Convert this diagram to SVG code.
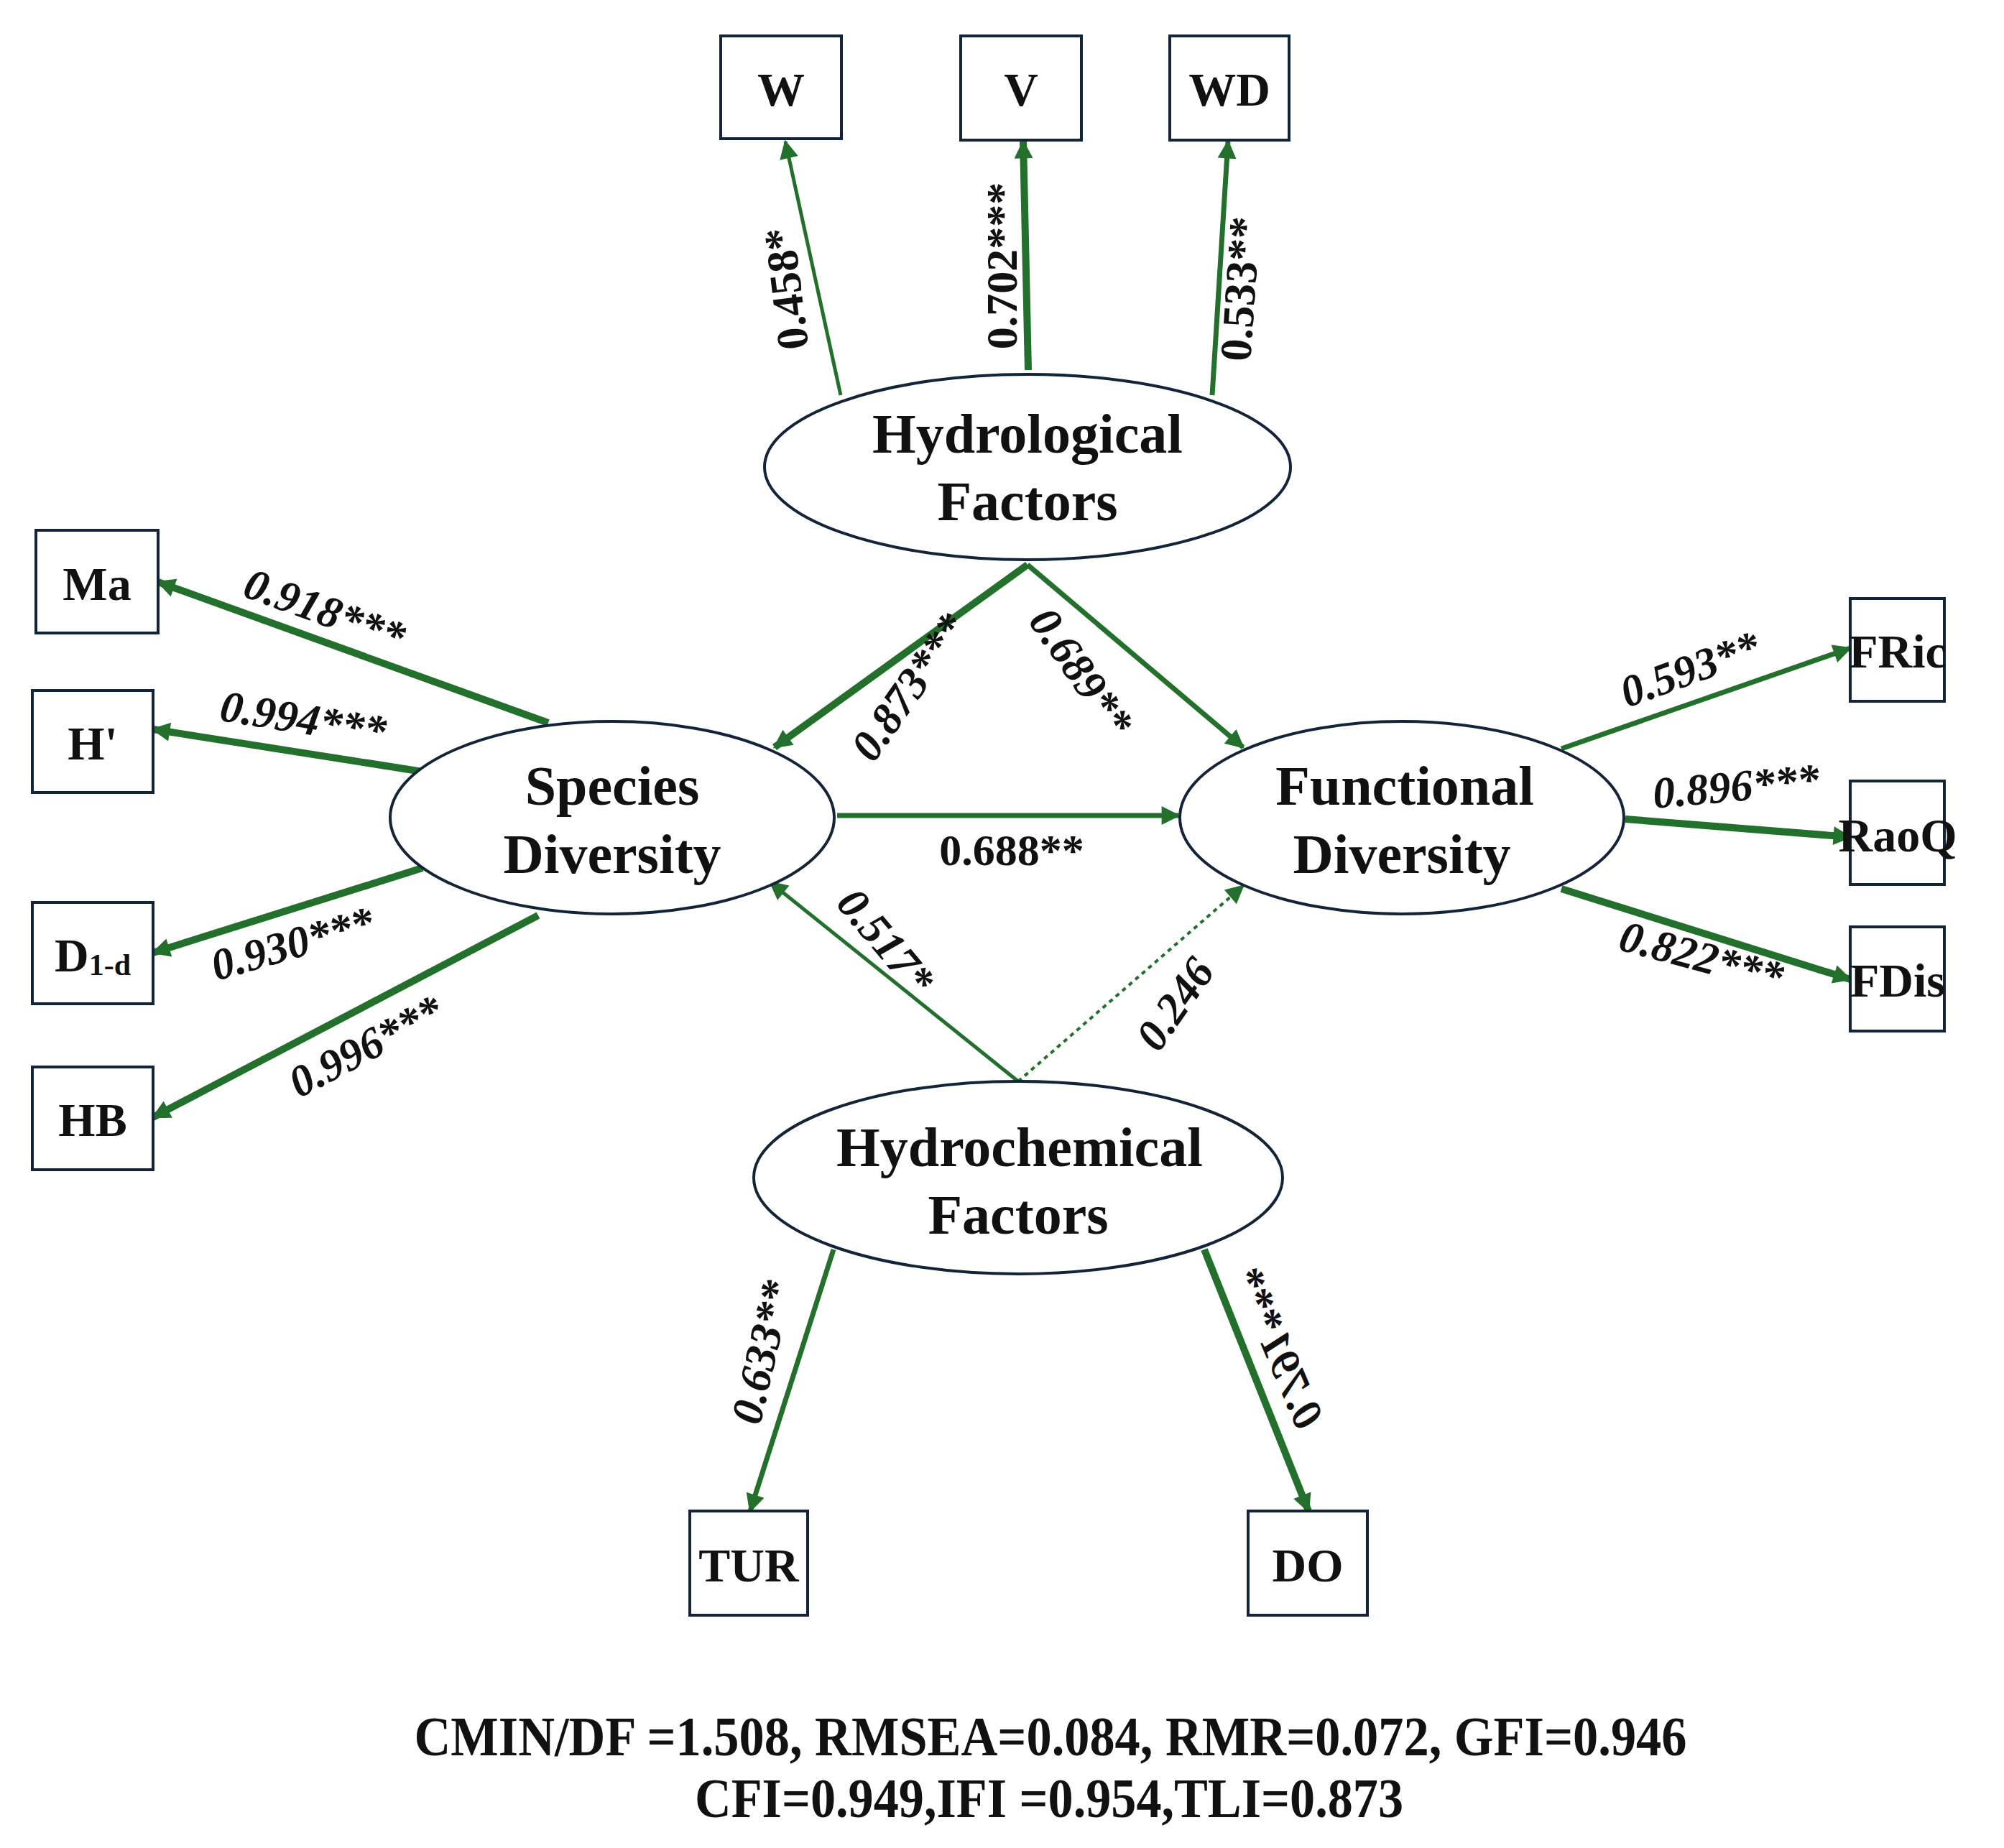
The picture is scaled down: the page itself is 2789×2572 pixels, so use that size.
<svg xmlns="http://www.w3.org/2000/svg" width="2789" height="2572" viewBox="0 0 2789 2572">
<style>
text{font-family:"Liberation Serif","Times New Roman",serif;font-weight:bold;fill:#111;text-anchor:middle;dominant-baseline:central}
.box{fill:#fff;stroke:#13243a;stroke-width:4}
.ell{fill:#fff;stroke:#13243a;stroke-width:4}
.bl{font-size:66px}
.nl{font-size:78px}
.lb{font-size:62px}
.it{font-style:italic}
.c{stroke:#22702c;fill:none}
.t1{stroke-width:5}.t2{stroke-width:7}.t3{stroke-width:10}
</style>
<defs>
<marker id="ah" viewBox="0 0 10 10" refX="9" refY="5" markerWidth="36" markerHeight="26" markerUnits="userSpaceOnUse" orient="auto"><path d="M0,0 L10,5 L0,10 z" fill="#22702c"/></marker>
</defs>
<rect width="2789" height="2572" fill="#fff"/>
<g id="connectors">
<line class="c t1" x1="1170" y1="550" x2="1093" y2="197" marker-end="url(#ah)"/>
<line class="c t3" x1="1431" y1="515" x2="1424" y2="197" marker-end="url(#ah)"/>
<line class="c t2" x1="1687" y1="550" x2="1709" y2="197" marker-end="url(#ah)"/>
<line class="c t3" x1="763" y1="1006" x2="220" y2="810" marker-end="url(#ah)"/>
<line class="c t3" x1="588" y1="1074" x2="213" y2="1015" marker-end="url(#ah)"/>
<line class="c t3" x1="588" y1="1208" x2="213" y2="1326" marker-end="url(#ah)"/>
<line class="c t3" x1="749" y1="1274" x2="213" y2="1555" marker-end="url(#ah)"/>
<line class="c t3" x1="1430" y1="786" x2="1078" y2="1040" marker-end="url(#ah)"/>
<line class="c t2" x1="1430" y1="786" x2="1730" y2="1040" marker-end="url(#ah)"/>
<line class="c t2" x1="1165" y1="1135" x2="1640" y2="1135" marker-end="url(#ah)"/>
<line class="c t1" x1="1417" y1="1505" x2="1072" y2="1228" marker-end="url(#ah)"/>
<line class="c" stroke-width="4" stroke-dasharray="6,6" x1="1417" y1="1505" x2="1730" y2="1233" marker-end="url(#ah)"/>
<line class="c t2" x1="2173" y1="1042" x2="2575" y2="902" marker-end="url(#ah)"/>
<line class="c t3" x1="2262" y1="1140" x2="2575" y2="1165" marker-end="url(#ah)"/>
<line class="c t3" x1="2173" y1="1237" x2="2575" y2="1363" marker-end="url(#ah)"/>
<line class="c t2" x1="1160" y1="1739" x2="1044" y2="2103" marker-end="url(#ah)"/>
<line class="c t3" x1="1676" y1="1739" x2="1821" y2="2103" marker-end="url(#ah)"/>
</g>
<g id="labels">
<text class="lb" transform="translate(1094,402) rotate(-97)">0.458*</text>
<text class="lb" transform="translate(1394,370) rotate(-90)">0.702***</text>
<text class="lb" transform="translate(1726,402) rotate(-86)">0.533**</text>
<text class="lb it" transform="translate(452,849) rotate(20)">0.918***</text>
<text class="lb it" transform="translate(422,1000) rotate(9)">0.994***</text>
<text class="lb it" transform="translate(407,1313) rotate(-16)">0.930***</text>
<text class="lb it" transform="translate(509,1456) rotate(-28)">0.996***</text>
<text class="lb it" transform="translate(1265,956) rotate(-55)">0.873***</text>
<text class="lb it" transform="translate(1505,935) rotate(55)">0.689**</text>
<text class="lb" x="1408" y="1183">0.688**</text>
<text class="lb it" transform="translate(1233,1310) rotate(50)">0.517*</text>
<text class="lb it" transform="translate(1635,1397) rotate(-55)">0.246</text>
<text class="lb it" transform="translate(2352,931) rotate(-20)">0.593**</text>
<text class="lb it" transform="translate(2416,1094) rotate(-5)">0.896***</text>
<text class="lb it" transform="translate(2368,1331) rotate(15)">0.822***</text>
<text class="lb it" transform="translate(1060,1882) rotate(-77)">0.633**</text>
<text class="lb it" transform="translate(1780,1877) rotate(-113) scale(1,-1)">0.791***</text>
</g>
<g id="W"><rect class="box" x="1003" y="50" width="168" height="143"/><text class="bl" x="1087" y="124">W</text></g>
<g id="V"><rect class="box" x="1337" y="50" width="168" height="145"/><text class="bl" x="1421" y="124">V</text></g>
<g id="WD"><rect class="box" x="1628" y="50" width="166" height="145"/><text class="bl" x="1711" y="124">WD</text></g>
<g id="Ma"><rect class="box" x="50" y="738" width="170" height="143"/><text class="bl" x="135" y="812">Ma</text></g>
<g id="H"><rect class="box" x="45" y="961" width="168" height="142"/><text class="bl" x="129" y="1034">H'</text></g>
<g id="D1d"><rect class="box" x="45" y="1256" width="168" height="141"/><text class="bl" x="129" y="1329">D<tspan font-size="42" dy="14">1-d</tspan></text></g>
<g id="HB"><rect class="box" x="45" y="1485" width="168" height="143"/><text class="bl" x="129" y="1558">HB</text></g>
<g id="FRic"><rect class="box" x="2575" y="833" width="131" height="143"/><text class="bl" font-size="60" x="2641" y="906">FRic</text></g>
<g id="RaoQ"><rect class="box" x="2575" y="1087" width="131" height="144"/><text class="bl" font-size="56" x="2641" y="1162">RaoQ</text></g>
<g id="FDis"><rect class="box" x="2575" y="1290" width="131" height="145"/><text class="bl" font-size="60" x="2641" y="1364">FDis</text></g>
<g id="TUR"><rect class="box" x="960" y="2103" width="164" height="145"/><text class="bl" x="1042" y="2178">TUR</text></g>
<g id="DO"><rect class="box" x="1737" y="2103" width="166" height="145"/><text class="bl" x="1820" y="2178">DO</text></g>
<g id="Hydrological"><ellipse class="ell" cx="1430" cy="650" rx="366" ry="129"/><text class="nl" x="1430" y="603">Hydrological</text><text class="nl" x="1430" y="697">Factors</text></g>
<g id="Species"><ellipse class="ell" cx="852" cy="1138" rx="309" ry="134"/><text class="nl" x="852" y="1093">Species</text><text class="nl" x="852" y="1188">Diversity</text></g>
<g id="Functional"><ellipse class="ell" cx="1951" cy="1138" rx="309" ry="134"/><text class="nl" x="1955" y="1093">Functional</text><text class="nl" x="1951" y="1188">Diversity</text></g>
<g id="Hydrochemical"><ellipse class="ell" cx="1417" cy="1639" rx="368" ry="134"/><text class="nl" x="1419" y="1596">Hydrochemical</text><text class="nl" x="1417" y="1690">Factors</text></g>
<g id="fit">
<text class="nl" font-size="64" x="1462" y="2416" textLength="1771" lengthAdjust="spacingAndGlyphs">CMIN/DF =1.508, RMSEA=0.084, RMR=0.072, GFI=0.946</text>
<text class="nl" font-size="64" x="1460" y="2502" textLength="986" lengthAdjust="spacingAndGlyphs">CFI=0.949,IFI =0.954,TLI=0.873</text>
</g>
</svg>
